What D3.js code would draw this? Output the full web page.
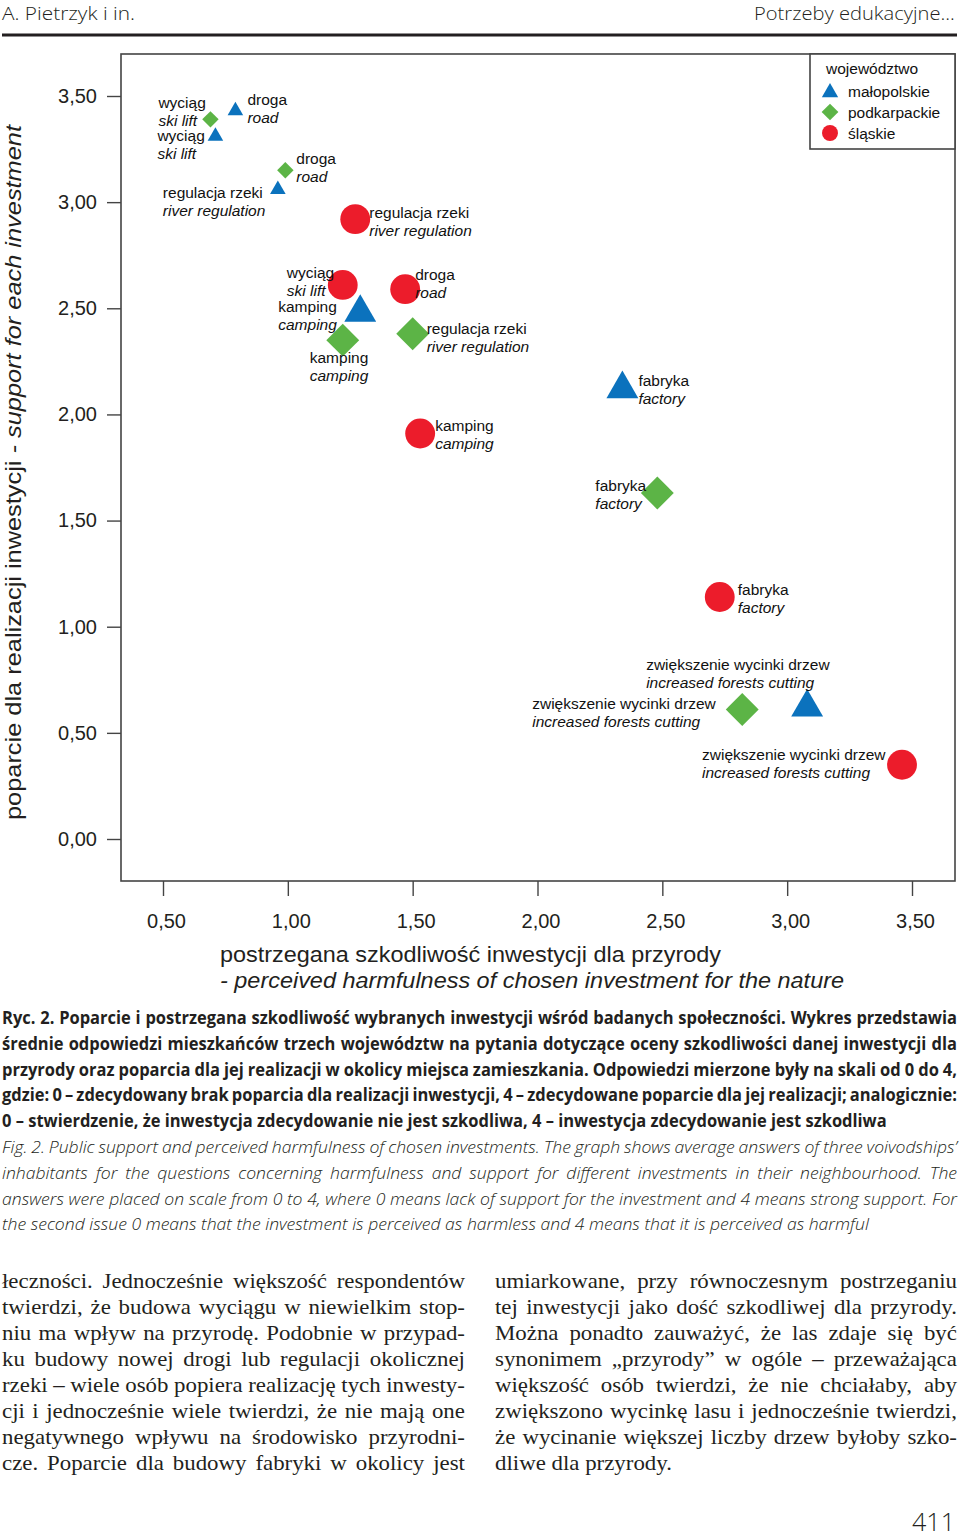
<!DOCTYPE html>
<html>
<head>
<meta charset="utf-8">
<script src="https://cdn.jsdelivr.net/npm/d3@7"></script>
<style>
body { margin: 0; background: #fff; }
svg { display: block; }
</style>
</head>
<body>
<svg id="page" width="960" height="1540"></svg>
<script>
// --- dane z wykresu ---
var regions = ["małopolskie", "podkarpackie", "śląskie"];
var investmentsPl = ["wyciąg", "droga", "regulacja rzeki", "kamping", "fabryka", "zwiększenie wycinki drzew"];
var investmentsEn = ["ski lift", "road", "river regulation", "camping", "factory", "increased forests cutting"];

// x = postrzegana szkodliwość, y = poparcie (kolejność jak investmentsPl)
var harmMalopolskie    = [0.71, 0.79, 0.96, 1.29, 2.34, 3.08];
var supportMalopolskie = [3.31, 3.43, 3.06, 2.48, 2.12, 0.62];
var harmPodkarpackie    = [0.69, 0.99, 1.50, 1.22, 2.48, 2.82];
var supportPodkarpackie = [3.39, 3.15, 2.38, 2.35, 1.63, 0.61];
var harmSlaskie    = [1.22, 1.47, 1.27, 1.53, 2.73, 3.46];
var supportSlaskie = [2.61, 2.59, 2.92, 1.91, 1.14, 0.35];

var xTicks = [0.5, 1, 1.5, 2, 2.5, 3, 3.5];
var yTicks = [0, 0.5, 1, 1.5, 2, 2.5, 3, 3.5];

// --- wygląd ---
var COLORS = {"małopolskie": "#0b72bd", "podkarpackie": "#5cb446", "śląskie": "#ec1c2b"};
var SHAPES = {"małopolskie": "triangle", "podkarpackie": "diamond", "śląskie": "circle"};
// przesunięcia podpisów (dx, dy pierwszej linii) względem punktu
var LABEL_POS = {
    "małopolskie":  [[-58, -1], [12, -11], [-115, 3], [-82, -6], [16, -8], [-161, -43]],
    "podkarpackie": [[-52, -17], [11, -12], [14, -5], [-33, 17], [-62, -7], [-210, -6]],
    "śląskie":      [[-56, -12], [10, -15], [14, -7], [15, -8], [18, -7], [-200, -10]]
};
// w oryginale kilka znaczników jest mniejszych
var SMALL = {"małopolskie:0": 1, "małopolskie:1": 1, "małopolskie:2": 1, "podkarpackie:0": 1, "podkarpackie:1": 1};

var svg = d3.select("#page");
var CHART_FONT = "'Liberation Sans', Arial, sans-serif";
var TXT = "#231f20";

var points = [];
[[harmMalopolskie, supportMalopolskie], [harmPodkarpackie, supportPodkarpackie], [harmSlaskie, supportSlaskie]]
    .forEach(function(s, r) {
        s[0].forEach(function(h, i) {
            points.push({region: regions[r], idx: i, harm: h, support: s[1][i],
                         pl: investmentsPl[i], en: investmentsEn[i]});
        });
    });

var x = d3.scaleLinear().domain([0.5, 3.5]).range([163, 912]);
var y = d3.scaleLinear().domain([0, 3.5]).range([839, 96]);
var fmt = function(d) { return d3.format(".2f")(d).replace(".", ","); };

function symbolPath(shape, big) {
    if (shape == "triangle") return d3.symbol(d3.symbolTriangle, big ? 440 : 105)();
    if (shape == "diamond") return d3.symbol(d3.symbolSquare, big ? 540 : 135)();
    return d3.symbol(d3.symbolCircle, big ? 700 : 200)();
}

// ramka wykresu
svg.append("rect").attr("x", 121).attr("y", 54).attr("width", 834).attr("height", 827)
    .attr("fill", "none").attr("stroke", "#444").attr("stroke-width", 1.6);

// osie
var yAxis = svg.append("g").attr("transform", "translate(121,0)")
    .call(d3.axisLeft(y).tickValues(yTicks).tickSize(14).tickPadding(10).tickFormat(fmt));
var xAxis = svg.append("g").attr("transform", "translate(0,881)")
    .call(d3.axisBottom(x).tickValues(xTicks).tickSize(15).tickPadding(18).tickFormat(fmt));
[yAxis, xAxis].forEach(function(a) {
    a.select(".domain").remove();
    a.selectAll("line").attr("stroke", "#444").attr("stroke-width", 1.4);
    a.selectAll("text").attr("font-family", CHART_FONT).attr("font-size", 20).attr("fill", TXT);
});
xAxis.selectAll("text").attr("dx", 3);

// tytuły osi
var yt = svg.append("text").attr("transform", "translate(21,820) rotate(-90)")
    .attr("font-family", CHART_FONT).attr("font-size", 22.5).attr("fill", TXT)
    .attr("textLength", 695).attr("lengthAdjust", "spacingAndGlyphs");
yt.append("tspan").text("poparcie dla realizacji inwestycji ");
yt.append("tspan").attr("font-style", "italic").text("- support for each investment");

svg.append("text").attr("x", 220).attr("y", 962).attr("font-family", CHART_FONT).attr("font-size", 22.5)
    .attr("fill", TXT).attr("textLength", 501).attr("lengthAdjust", "spacingAndGlyphs")
    .text("postrzegana szkodliwość inwestycji dla przyrody");
svg.append("text").attr("x", 220).attr("y", 988).attr("font-family", CHART_FONT).attr("font-size", 22.5)
    .attr("font-style", "italic").attr("fill", TXT).attr("textLength", 624).attr("lengthAdjust", "spacingAndGlyphs")
    .text("- perceived harmfulness of chosen investment for the nature");

// znaczniki
var marks = svg.append("g").selectAll("path").data(points).enter().append("path")
    .attr("d", function(d) { return symbolPath(SHAPES[d.region], !SMALL[d.region + ":" + d.idx]); })
    .attr("transform", function(d) {
        return "translate(" + x(d.harm) + "," + y(d.support) + ")" + (SHAPES[d.region] == "diamond" ? " rotate(45)" : "");
    })
    .attr("fill", function(d) { return COLORS[d.region]; });

// podpisy
var lbl = svg.append("g").selectAll("g").data(points).enter().append("g")
    .attr("font-family", CHART_FONT).attr("font-size", 15.5).attr("fill", "#111");
lbl.each(function(d) {
    var g = d3.select(this), p = LABEL_POS[d.region][d.idx];
    var lx = x(d.harm) + p[0], ly = y(d.support) + p[1] + 5.5;
    g.append("text").attr("x", lx).attr("y", ly).text(d.pl);
    g.append("text").attr("x", lx).attr("y", ly + 18).attr("font-style", "italic").text(d.en);
});

// legenda
var leg = svg.append("g").attr("transform", "translate(810,54)");
leg.append("rect").attr("width", 145).attr("height", 95).attr("fill", "#fff")
    .attr("stroke", "#444").attr("stroke-width", 1.6);
leg.append("text").attr("x", 16).attr("y", 19.5).attr("font-family", CHART_FONT).attr("font-size", 15.5)
    .attr("fill", "#111").text("województwo");
regions.forEach(function(r, i) {
    var cy = 37 + i * 21;
    leg.append("path")
        .attr("d", r == "małopolskie" ? d3.symbol(d3.symbolTriangle, 115)() :
                   r == "podkarpackie" ? d3.symbol(d3.symbolSquare, 140)() : d3.symbol(d3.symbolCircle, 200)())
        .attr("transform", "translate(20," + (cy + (r == "małopolskie" ? 1.5 : 0)) + ")" + (r == "podkarpackie" ? " rotate(45)" : ""))
        .attr("fill", COLORS[r]);
    leg.append("text").attr("x", 38).attr("y", cy + 5.5).attr("font-family", CHART_FONT).attr("font-size", 15.5)
        .attr("fill", "#111").text(r);
});

// --- tekst strony ---
var meas = svg.append("g").attr("opacity", 0);
function textWidth(str, st) {
    var t = meas.append("text").attr("font-family", st.family).attr("font-size", st.size)
        .attr("font-weight", st.weight || 400).attr("font-style", st.style || "normal").text(str);
    var w = t.node().getComputedTextLength();
    t.remove();
    return w;
}
function line(str, x0, x1, yb, st, justify, sx) {
    var words = str.split(" ");
    var ws = words.map(function(w) { return textWidth(w, st); });
    var space = textWidth("a a", st) - 2 * textWidth("a", st);
    var total = d3.sum(ws), n = words.length - 1, gap = space;
    if (justify && n > 0) {
        gap = ((x1 - x0) / sx - total) / n;
        if (gap < space * 0.55) { gap = space * 0.55; sx = (x1 - x0) / (total + n * gap); }
    }
    var g = svg.append("g").attr("transform", "translate(" + x0 + "," + yb + ") scale(" + sx + ",1)")
        .attr("font-family", st.family).attr("font-size", st.size).attr("font-weight", st.weight || 400)
        .attr("font-style", st.style || "normal").attr("fill", TXT);
    var cx = 0;
    words.forEach(function(w, i) {
        g.append("text").attr("x", cx).attr("y", 0).text(w);
        cx += ws[i] + gap;
    });
}
function naturalScale(str, st, width) { return width / textWidth(str, st); }

// nagłówek
var HEAD = {family: "'Open Sans', sans-serif", size: 19, weight: 300};
line("A. Pietrzyk i in.", 2, 135, 20, HEAD, false, naturalScale("A. Pietrzyk i in.", HEAD, 133));
var hs = naturalScale("Potrzeby edukacyjne...", HEAD, 201);
line("Potrzeby edukacyjne...", 754, 955, 20, HEAD, false, hs);
svg.append("rect").attr("x", 2).attr("y", 33.5).attr("width", 955).attr("height", 3).attr("fill", "#231f20");

// podpis rysunku
var CAP_B = {family: "'Open Sans', sans-serif", size: 17, weight: 700};
var CAP_I = {family: "'Open Sans', sans-serif", size: 17, weight: 300, style: "italic"};
var capBold = [
    "Ryc. 2. Poparcie i postrzegana szkodliwość wybranych inwestycji wśród badanych społeczności. Wykres przedstawia",
    "średnie odpowiedzi mieszkańców trzech województw na pytania dotyczące oceny szkodliwości danej inwestycji dla",
    "przyrody oraz poparcia dla jej realizacji w okolicy miejsca zamieszkania. Odpowiedzi mierzone były na skali od 0 do 4,",
    "gdzie: 0 – zdecydowany brak poparcia dla realizacji inwestycji, 4 – zdecydowane poparcie dla jej realizacji; analogicznie:",
    "0 – stwierdzenie, że inwestycja zdecydowanie nie jest szkodliwa, 4 – inwestycja zdecydowanie jest szkodliwa"
];
var capItalic = [
    "Fig. 2. Public support and perceived harmfulness of chosen investments. The graph shows average answers of three voivodships’",
    "inhabitants for the questions concerning harmfulness and support for different investments in their neighbourhood. The",
    "answers were placed on scale from 0 to 4, where 0 means lack of support for the investment and 4 means strong support. For",
    "the second issue 0 means that the investment is perceived as harmless and 4 means that it is perceived as harmful"
];
var sB = naturalScale(capBold[4], CAP_B, 885);
capBold.forEach(function(s, i) { line(s, 2, 957, 1024 + i * 25.8, CAP_B, i < 4, sB); });
var sI = naturalScale(capItalic[3], CAP_I, 867);
capItalic.forEach(function(s, i) { line(s, 2, 957, 1153 + i * 25.8, CAP_I, i < 3, sI); });

// tekst główny, dwie kolumny
var BODY = {family: "'Liberation Serif', 'Times New Roman', serif", size: 20};
var colLeft = [
    "łeczności. Jednocześnie większość respondentów",
    "twierdzi, że budowa wyciągu w niewielkim stop-",
    "niu ma wpływ na przyrodę. Podobnie w przypad-",
    "ku budowy nowej drogi lub regulacji okolicznej",
    "rzeki – wiele osób popiera realizację tych inwesty-",
    "cji i jednocześnie wiele twierdzi, że nie mają one",
    "negatywnego wpływu na środowisko przyrodni-",
    "cze. Poparcie dla budowy fabryki w okolicy jest"
];
var colRight = [
    "umiarkowane, przy równoczesnym postrzeganiu",
    "tej inwestycji jako dość szkodliwej dla przyrody.",
    "Można ponadto zauważyć, że las zdaje się być",
    "synonimem „przyrody” w ogóle – przeważająca",
    "większość osób twierdzi, że nie chciałaby, aby",
    "zwiększono wycinkę lasu i jednocześnie twierdzi,",
    "że wycinanie większej liczby drzew byłoby szko-",
    "dliwe dla przyrody."
];
var sBody = naturalScale(colRight[7], BODY, 177);
colLeft.forEach(function(s, i) { line(s, 2, 465, 1288 + i * 26, BODY, true, sBody); });
colRight.forEach(function(s, i) { line(s, 495, 957, 1288 + i * 26, BODY, i < 7, sBody); });

// numer strony
var PNUM = {family: "'Open Sans', sans-serif", size: 25, weight: 300};
line("411", 912, 955, 1531, PNUM, false, naturalScale("411", PNUM, 43));
</script>
</body>
</html>
